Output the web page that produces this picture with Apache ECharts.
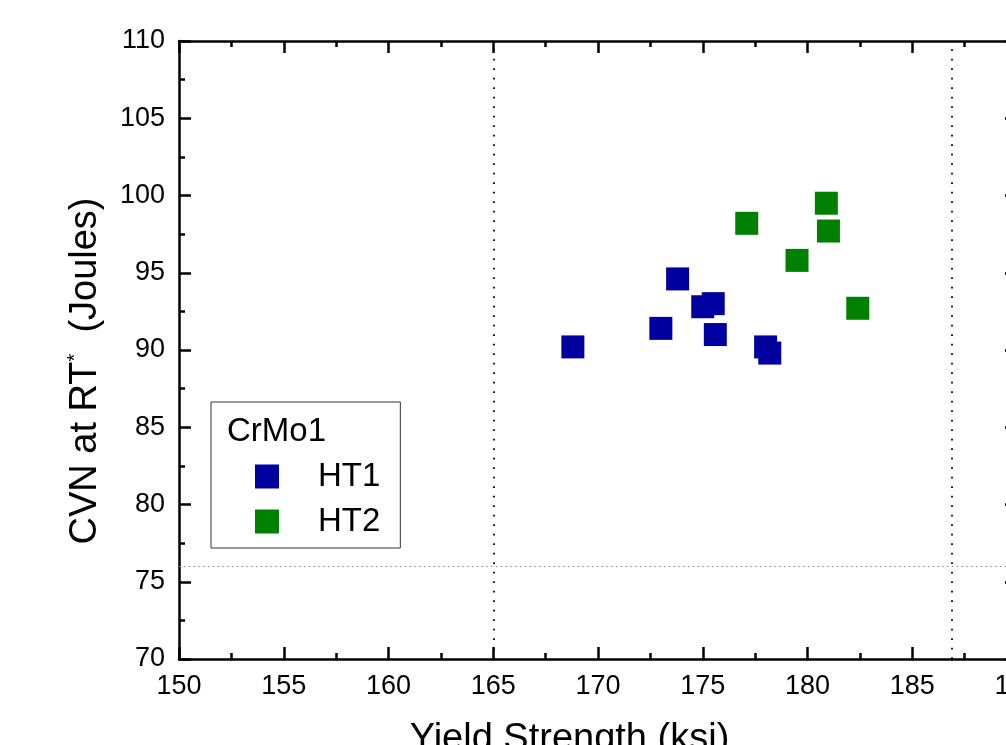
<!DOCTYPE html>
<html>
<head>
<meta charset="utf-8">
<script src="https://cdn.jsdelivr.net/npm/echarts@6/dist/echarts.min.js"></script>
<style>
  html, body { margin: 0; padding: 0; background: #fff; }
  #main { width: 1006px; height: 745px; }
</style>
</head>
<body>
<div id="main"></div>
<script>
// data
var ht1X = [168.8, 173.8, 173.0, 175.0, 175.5, 175.6, 178.0, 178.2];
var ht1Y = [90.2, 94.6, 91.4, 92.8, 93.0, 91.0, 90.2, 89.8];
var ht2X = [177.1, 180.9, 181.0, 179.5, 182.4];
var ht2Y = [98.2, 99.5, 97.7, 95.8, 92.7];
var xLines = [165, 186.9];
var yLine = 76;

var font = 'Liberation Sans, Arial, sans-serif';

function pairs(xs, ys) {
  return xs.map(function (x, i) { return [x, ys[i]]; });
}

function axisBase(show) {
  return {
    axisLine: { show: true, onZero: false, lineStyle: { color: '#000', width: 2.5 } },
    axisTick: { show: true, inside: true, length: 12, lineStyle: { color: '#000', width: 2.5 } },
    minorTick: { show: true, splitNumber: 2, length: 6, lineStyle: { color: '#000', width: 2.5 } },
    splitLine: { show: false },
    axisLabel: {
      show: show,
      fontSize: 27,
      fontFamily: font,
      color: '#000',
      margin: 14
    }
  };
}

var myChart = echarts.init(document.getElementById('main'));

var xBottom = Object.assign(axisBase(true), {
  type: 'value', position: 'bottom', min: 150, max: 190, interval: 5,
  name: 'Yield Strength (ksi)',
  nameLocation: 'middle',
  nameGap: 62,
  nameTextStyle: { fontSize: 38, fontFamily: font, color: '#000', padding: [0, 57, 0, 0] }
});
var xTop = Object.assign(axisBase(false), {
  type: 'value', position: 'top', min: 150, max: 190, interval: 5
});
var yLeft = Object.assign(axisBase(true), {
  type: 'value', position: 'left', min: 70, max: 110, interval: 5,
  name: '{a|CVN at RT}{sup|*}{a|  (Joules)}',
  nameLocation: 'middle',
  nameGap: 72,
  nameTextStyle: {
    fontFamily: font, color: '#000', padding: [0, 42, 0, 0],
    rich: {
      a: { fontSize: 38, fontFamily: font, color: '#000' },
      sup: { fontSize: 20, fontFamily: font, color: '#000', verticalAlign: 'top', padding: [0, 0, 22, 0] }
    }
  }
});
var yRight = Object.assign(axisBase(false), {
  type: 'value', position: 'right', min: 70, max: 110, interval: 5
});

myChart.setOption({
  animation: false,
  backgroundColor: '#fff',
  grid: { left: 179, top: 41, right: -11, bottom: 86, containLabel: false, outerBoundsMode: 'none' },
  title: {
    text: 'CrMo1',
    left: 227,
    top: 415,
    padding: 0,
    textStyle: { fontSize: 33, fontWeight: 'normal', fontFamily: font, color: '#000' }
  },
  legend: {
    orient: 'vertical',
    left: 211,
    top: 402,
    padding: [58, 20, 10, 44],
    itemGap: 12,
    itemWidth: 24,
    itemHeight: 24,
    icon: 'rect',
    borderColor: '#333',
    borderWidth: 1,
    borderRadius: 0,
    textStyle: { fontSize: 33, fontFamily: font, color: '#000', padding: [0, 0, 0, 34] },
    data: ['HT1', 'HT2']
  },
  xAxis: [xBottom, xTop],
  yAxis: [yLeft, yRight],
  series: [
    {
      name: 'HT1',
      type: 'scatter',
      symbol: 'rect',
      symbolSize: 23,
      itemStyle: { color: '#0000a0', opacity: 1 },
      data: pairs(ht1X, ht1Y),
      markLine: {
        silent: true,
        symbol: 'none',
        label: { show: false },
        data: [
          { xAxis: xLines[0], lineStyle: { color: '#000', width: 1.8, type: [1.8, 7.7] } },
          { xAxis: xLines[1], lineStyle: { color: '#000', width: 1.8, type: [1.8, 7.7] } },
          { yAxis: yLine, lineStyle: { color: '#888', width: 1, type: [1.5, 3.3] } }
        ]
      }
    },
    {
      name: 'HT2',
      type: 'scatter',
      symbol: 'rect',
      symbolSize: 23,
      itemStyle: { color: '#008000', opacity: 1 },
      data: pairs(ht2X, ht2Y)
    }
  ]
});
</script>
</body>
</html>
